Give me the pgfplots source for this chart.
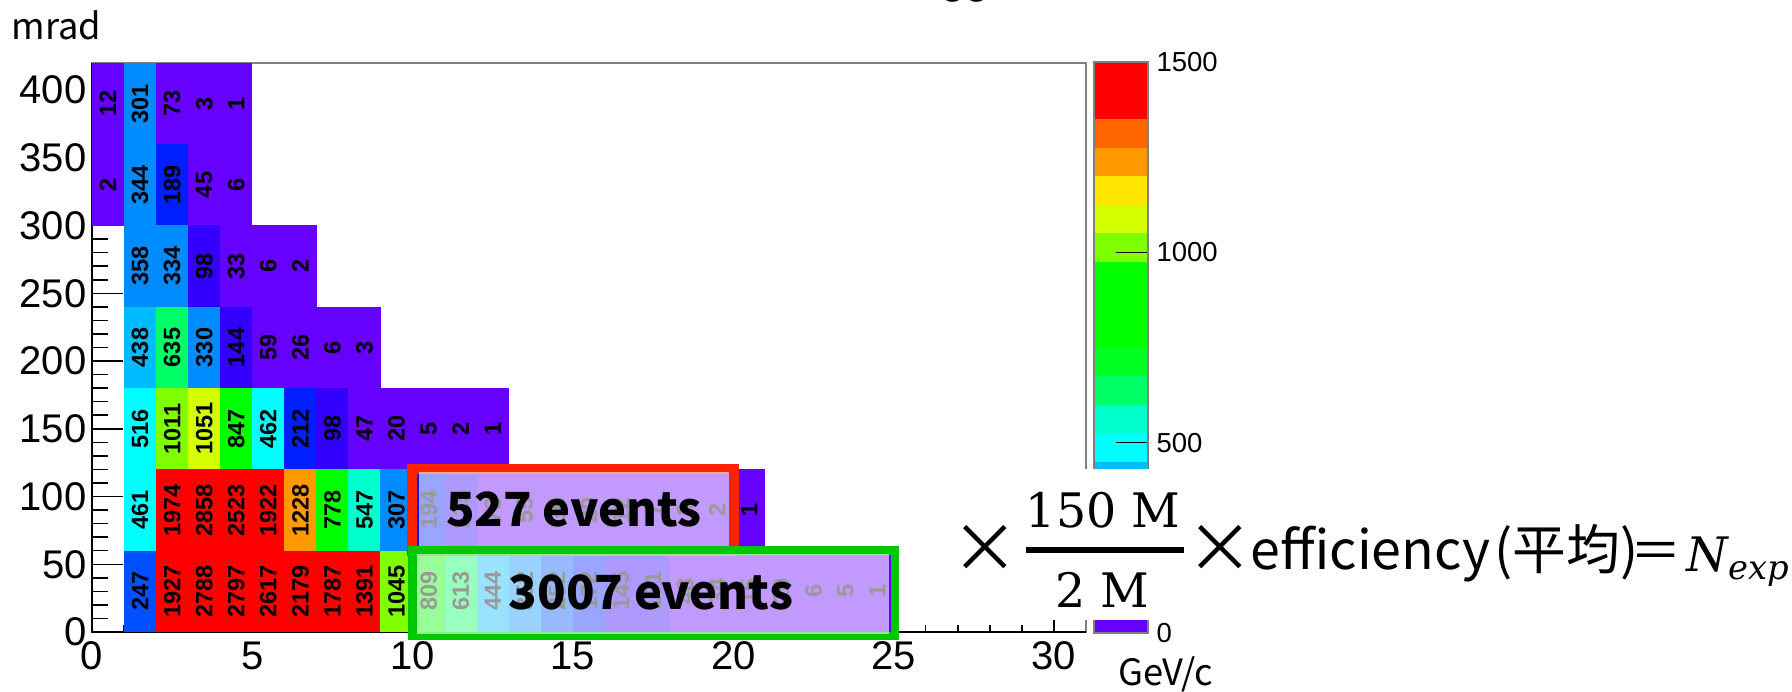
\documentclass[border=0pt]{standalone}
\usepackage{fontspec}
\usepackage{pgfplots}
\usepackage{pgfplotstable}
\pgfplotsset{compat=1.18}
\newfontfamily\hel{Liberation Sans}
\newfontfamily\jp{Noto Sans CJK JP}
\newfontfamily\dvs{DejaVu Serif}
\newcommand\tickfont{\hel\fontsize{16}{16}\selectfont}
\newcommand\cellfont{\hel\bfseries\fontsize{9.4}{9.4}\selectfont}
\newcommand\cbfont{\hel\fontsize{11}{11}\selectfont}

\pgfdeclareplotmark{cell}{\pgfpathrectangle{\pgfpoint{-6.45pt}{-16.3pt}}{\pgfpoint{12.9pt}{32.6pt}}\pgfusepathqfill}
\pgfdeclareplotmark{band}{\pgfpathrectangle{\pgfpoint{-10.8pt}{-5.76pt}}{\pgfpoint{21.6pt}{11.52pt}}\pgfusepathqfill}

\pgfplotsset{
  colormap={rootpal}{
    rgb255=(102,0,255) rgb255=(51,0,255) rgb255=(0,30,255) rgb255=(0,80,255)
    rgb255=(0,140,255) rgb255=(0,187,255) rgb255=(0,255,255) rgb255=(0,255,204)
    rgb255=(0,255,102) rgb255=(0,255,34) rgb255=(0,255,0) rgb255=(0,255,0)
    rgb255=(0,255,0) rgb255=(127,255,0) rgb255=(212,255,0) rgb255=(255,230,0)
    rgb255=(255,153,0) rgb255=(255,102,0) rgb255=(255,0,0) rgb255=(255,0,0)
  },
}

\pgfplotstableread{
x y v
0.5 390 12
1.5 390 301
2.5 390 73
3.5 390 3
4.5 390 1
0.5 330 2
1.5 330 344
2.5 330 189
3.5 330 45
4.5 330 6
1.5 270 358
2.5 270 334
3.5 270 98
4.5 270 33
5.5 270 6
6.5 270 2
1.5 210 438
2.5 210 635
3.5 210 330
4.5 210 144
5.5 210 59
6.5 210 26
7.5 210 6
8.5 210 3
1.5 150 516
2.5 150 1011
3.5 150 1051
4.5 150 847
5.5 150 462
6.5 150 212
7.5 150 98
8.5 150 47
9.5 150 20
10.5 150 5
11.5 150 2
12.5 150 1
1.5 90 461
2.5 90 1974
3.5 90 2858
4.5 90 2523
5.5 90 1922
6.5 90 1228
7.5 90 778
8.5 90 547
9.5 90 307
10.5 90 194
11.5 90 125
12.5 90 73
13.5 90 55
14.5 90 36
15.5 90 20
16.5 90 12
17.5 90 7
18.5 90 3
19.5 90 2
20.5 90 1
1.5 30 247
2.5 30 1927
3.5 30 2788
4.5 30 2797
5.5 30 2617
6.5 30 2179
7.5 30 1787
8.5 30 1391
9.5 30 1045
10.5 30 809
11.5 30 613
12.5 30 444
13.5 30 352
14.5 30 252
15.5 30 172
16.5 30 145
17.5 30 101
18.5 30 48
19.5 30 34
20.5 30 15
21.5 30 10
22.5 30 6
23.5 30 5
24.5 30 1
}\cells

\pgfplotstableread{
x y v
0.5 37.5 37.5
0.5 112.5 112.5
0.5 187.5 187.5
0.5 262.5 262.5
0.5 337.5 337.5
0.5 412.5 412.5
0.5 487.5 487.5
0.5 562.5 562.5
0.5 637.5 637.5
0.5 712.5 712.5
0.5 787.5 787.5
0.5 862.5 862.5
0.5 937.5 937.5
0.5 1012.5 1012.5
0.5 1087.5 1087.5
0.5 1162.5 1162.5
0.5 1237.5 1237.5
0.5 1312.5 1312.5
0.5 1387.5 1387.5
0.5 1462.5 1462.5
}\bands

\begin{document}
\begin{tikzpicture}
\path[use as bounding box] (0,0) rectangle (716.8pt,276.4pt);
\begin{axis}[
  at={(36.8pt,23.6pt)}, anchor=south west,
  scale only axis, width=397.6pt, height=227.6pt,
  xmin=0, xmax=31, ymin=0, ymax=420,
  xtick={0,5,...,30}, ytick={0,50,...,400},
  minor x tick num=4, minor y tick num=4,
  tick pos=left, tick align=inside,
  axis line style={draw=gray, line width=0.8pt},
  tick style={black, line width=0.6pt},
  xtick style={/pgfplots/major tick length=5.2pt, /pgfplots/minor tick length=2.8pt},
  ytick style={/pgfplots/major tick length=12.5pt, /pgfplots/minor tick length=6.5pt},
  tick label style={font=\tickfont, inner sep=0pt},
  xticklabel style={yshift=-3.8pt},
  yticklabel style={xshift=-2pt},
  /pgf/number format/assume math mode=true,
  /pgf/number format/1000 sep={},
  colormap name=rootpal,
  colormap access=piecewise constant,
  point meta min=0, point meta max=1500,
  clip=false,
]
\draw[black, line width=0.8pt] (rel axis cs:0,1) -- (rel axis cs:0,0) -- (rel axis cs:1,0);
\addplot[scatter, only marks, mark=cell, point meta=explicit,
  scatter/use mapped color={draw=none, fill=mapped color}]
  table[x=x, y=y, meta=v] {\cells};
\addplot[only marks, mark=none, point meta=explicit symbolic, nodes near coords,
  every node near coord/.append style={rotate=90, anchor=center, font=\cellfont, inner sep=0pt, text=black}]
  table[x=x, y=y, meta=v] {\cells};
\end{axis}

% colour bar: bands
\begin{axis}[
  at={(437.6pt,23.2pt)}, anchor=south west,
  scale only axis, width=21.6pt, height=228.4pt,
  xmin=0, xmax=1, ymin=0, ymax=1500,
  hide axis,
  colormap name=rootpal,
  colormap access=piecewise constant,
  point meta min=0, point meta max=1500,
]
\addplot[scatter, only marks, mark=band, point meta=explicit,
  scatter/use mapped color={draw=none, fill=mapped color}]
  table[x=x, y=y, meta=v] {\bands};
\end{axis}
% colour bar: frame, ticks and labels on top
\begin{axis}[
  at={(437.6pt,23.2pt)}, anchor=south west,
  scale only axis, width=21.6pt, height=228.4pt,
  xmin=0, xmax=1, ymin=0, ymax=1500,
  xtick=\empty, ytick={0,500,1000,1500},
  ytick pos=right, yticklabel pos=right, tick align=inside,
  major tick length=12.8pt,
  axis line style={draw=gray, line width=0.5pt},
  tick style={black, line width=0.6pt},
  yticklabel style={font=\cbfont, inner sep=0pt, xshift=3.2pt},
  /pgf/number format/assume math mode=true,
  /pgf/number format/1000 sep={},
]
\end{axis}

\begin{scope}[x=0.4pt, y=-0.4pt, yshift=276.4pt]
% title fragment (cut off at the top edge)
\node[anchor=base west, inner sep=0pt] at (941,-6) {\hel\fontsize{17}{17}\selectfont gg};
% axis titles
\node[anchor=base west, inner sep=0pt] at (11,40) {\jp\fontsize{14.5}{14.5}\selectfont mrad};
\node[anchor=base west, inner sep=0pt] at (1118,686) {\jp\fontsize{14.5}{14.5}\selectfont GeV/c};
% red box
\draw[draw={rgb,255:red,255;green,34;blue,0}, line width=3.8pt] (412,469) rectangle (734,551);
\fill[white, opacity=0.6] (419,472) rectangle (729,552);
% green box
\draw[draw={rgb,255:red,0;green,200;blue,0}, line width=3.4pt] (412.5,550.5) rectangle (895,636);
\fill[white, opacity=0.6] (417,554) rectangle (889,634);
\node[inner sep=0pt] at (574,509) {\jp\bfseries\fontsize{18.8}{18.8}\selectfont 527 events};
\node[inner sep=0pt] at (651,592) {\jp\bfseries\fontsize{18.8}{18.8}\selectfont 3007 events};
% formula
\fill[white] (950,469) rectangle (1792,620);
\node[inner sep=0pt] at (985,549) {\jp\fontsize{27}{27}\selectfont ×};
\node[anchor=base, inner sep=0pt] at (1103,528) {\dvs\fontsize{19}{19}\selectfont 150 M};
\fill[black] (1026,547) rectangle (1184,553);
\node[anchor=base, inner sep=0pt] at (1102,608) {\dvs\fontsize{19}{19}\selectfont 2 M};
\node[inner sep=0pt] at (1220,549) {\jp\fontsize{27}{27}\selectfont ×};
\node[anchor=base west, inner sep=0pt] at (1250,570) {\jp\fontsize{21.5}{21.5}\selectfont efficiency};
\node[anchor=base west, inner sep=0pt] at (1494,570) {\jp\fontsize{21.5}{21.5}\selectfont (平均)};
\node[anchor=base west, inner sep=0pt] at (1630,570) {\jp\fontsize{20.5}{20.5}\selectfont ＝};
\node[anchor=base west, inner sep=0pt] at (1686,572) {\dvs\itshape\fontsize{19}{19}\selectfont N\raisebox{-3.2pt}{\fontsize{13.5}{13.5}\selectfont exp}};
\end{scope}
\end{tikzpicture}
\end{document}
